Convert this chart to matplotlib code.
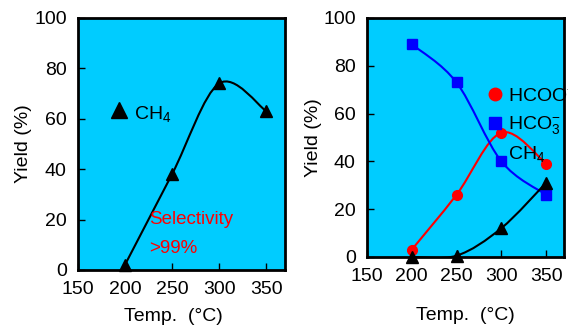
import matplotlib
matplotlib.use('Agg')
import matplotlib.pyplot as plt
import numpy as np
from matplotlib.path import Path
from matplotlib.patches import PathPatch

plt.rcParams['font.family'] = ['Liberation Sans', 'DejaVu Sans']
plt.rcParams['mathtext.fontset'] = 'custom'
plt.rcParams['mathtext.rm'] = 'Liberation Sans'
plt.rcParams['mathtext.it'] = 'Liberation Sans:italic'
plt.rcParams['font.size'] = 14

# Data
temp = [200, 250, 300, 350]
ch4_left = [2, 38, 74, 63]
hcoo = [3, 26, 52, 39]
hco3 = [89, 73, 40, 26]
ch4_right = [0, 0.5, 12, 31]

bg = '#00CCFF'


def smooth_line(ax, x, y, color):
    # Catmull-Rom style bezier through the points (like a spreadsheet smoothed line)
    p = np.column_stack([x, y]).astype(float)
    ext = np.vstack([p[0], p, p[-1]])
    verts = [p[0]]
    codes = [Path.MOVETO]
    for i in range(1, len(ext) - 2):
        p0, p1, p2, p3 = ext[i - 1], ext[i], ext[i + 1], ext[i + 2]
        verts += [p1 + (p2 - p0) / 6, p2 - (p3 - p1) / 6, p2]
        codes += [Path.CURVE4] * 3
    ax.add_patch(PathPatch(Path(verts, codes), fill=False, edgecolor=color, lw=1.5, zorder=2))


def style(ax, label_y, label_x):
    ax.set_facecolor(bg)
    ax.set_xlim(150, 370)
    ax.set_ylim(0, 100)
    ax.set_xticks([150, 200, 250, 300, 350])
    ax.set_yticks([0, 20, 40, 60, 80, 100])
    ax.tick_params(direction='in', length=5, width=1, labelsize=14)
    ax.tick_params(axis='y', pad=8)
    ax.tick_params(axis='x', pad=8)
    for s in ax.spines.values():
        s.set_linewidth(2)
    ax.set_xlabel('Temp.  (°C)', fontsize=14, va='center')
    ax.xaxis.set_label_coords(label_x, label_y)
    ax.set_ylabel('Yield (%)', fontsize=14)


fig = plt.figure(figsize=(5.68, 3.26), dpi=100)

# Left panel
ax1 = fig.add_axes([0.137, 0.172, 0.365, 0.773])
style(ax1, -0.183, 0.461)
ax1.yaxis.set_label_coords(-0.222, 0.5)
smooth_line(ax1, temp, ch4_left, 'black')
ax1.plot(temp, ch4_left, '^', color='black', ms=8, clip_on=False, zorder=3)
ax1.plot([194], [63.5], '^', color='black', ms=12)
ax1.text(210, 62, 'CH$_4$', fontsize=14, va='center')
ax1.text(226, 20, 'Selectivity', color='red', fontsize=13.5, va='center')
ax1.text(226, 8.5, '>99%', color='red', fontsize=13.5, va='center')

# Right panel
ax2 = fig.add_axes([0.646, 0.212, 0.347, 0.733])
style(ax2, -0.247, 0.497)
ax2.yaxis.set_label_coords(-0.228, 0.5)
smooth_line(ax2, temp, hcoo, 'red')
smooth_line(ax2, temp, hco3, 'blue')
smooth_line(ax2, temp, ch4_right, 'black')
ax2.plot(temp, hcoo, 'o', color='red', ms=7, clip_on=False, zorder=3)
ax2.plot(temp, hco3, 's', color='blue', ms=7.5, clip_on=False, zorder=3)
ax2.plot(temp, ch4_right, '^', color='black', ms=8, clip_on=False, zorder=3)
ax2.plot([293], [68], 'o', color='red', ms=9, zorder=4)
ax2.plot([293], [56], 's', color='blue', ms=9, zorder=4)
ax2.text(307, 67, 'HCOO$^{-}$', fontsize=14, va='center', clip_on=False)
ax2.text(307, 55, 'HCO$_3^{-}$', fontsize=14, va='center')
ax2.text(307, 43, 'CH$_4$', fontsize=14, va='center')

fig.savefig('out.png', dpi=100)
